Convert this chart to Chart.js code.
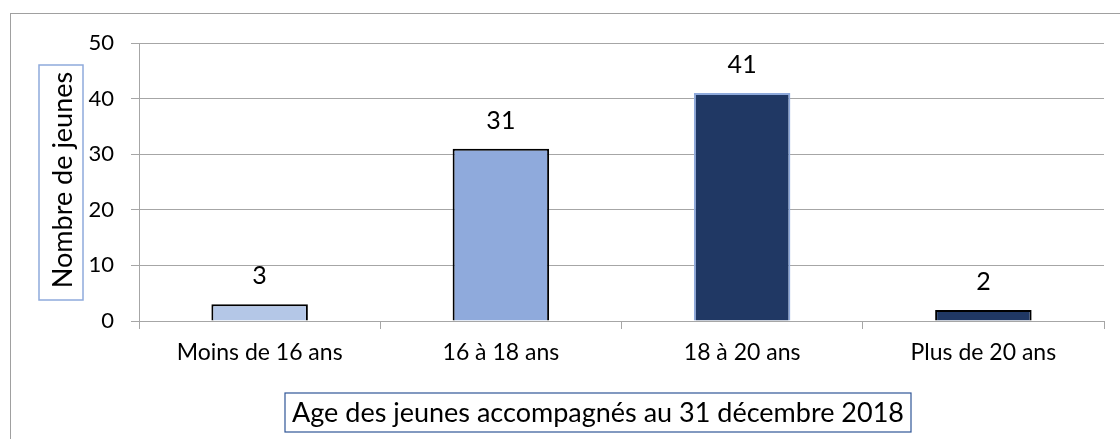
<!DOCTYPE html>
<html>
<head>
<meta charset="utf-8">
<script src="https://cdn.jsdelivr.net/npm/chart.js@4/dist/chart.umd.min.js"></script>
<style>
  body { margin: 0; background: #fff; }
  #wrap { width: 1120px; height: 439px; }
</style>
</head>
<body>
<div id="wrap"><canvas id="ageChart" width="1120" height="439"></canvas></div>
<script>
// data
const categories = ["Moins de 16 ans", "16 à 18 ans", "18 à 20 ans", "Plus de 20 ans"];
const values = [3, 31, 41, 2];
const yTicks = [0, 10, 20, 30, 40, 50];
const yTitle = "Nombre de jeunes";
const xTitle = "Age des jeunes accompagnés au 31 décembre 2018";

const barColors = ["#b4c7e7", "#8faadc", "#203864", "#203864"];
const barBorders = ["#000000", "#000000", "#8faadc", "#000000"];

const fontName = "Lato, 'Open Sans', sans-serif";

// draws the value above each bar, the boxed axis titles and the outer frame
const extras = {
    id: "extras",
    afterDatasetsDraw(chart) {
        const ctx = chart.ctx;
        const meta = chart.getDatasetMeta(0);
        ctx.save();
        ctx.fillStyle = "#000";
        ctx.font = "25px " + fontName;
        ctx.textAlign = "center";
        ctx.textBaseline = "middle";
        meta.data.forEach((bar, i) => {
            ctx.fillText(values[i], bar.x, bar.y - 28);
        });
        ctx.restore();
    },
    afterDraw(chart) {
        const ctx = chart.ctx;
        ctx.save();
        // outer frame (right and bottom edges fall outside the picture)
        ctx.strokeStyle = "#a0a0a0";
        ctx.lineWidth = 1;
        ctx.strokeRect(10.5, 13.5, 1130, 440);

        // y title box
        ctx.strokeStyle = "#8faadc";
        ctx.lineWidth = 1.5;
        ctx.strokeRect(39, 65, 44, 235);
        ctx.translate(62, 180);
        ctx.rotate(-Math.PI / 2);
        ctx.fillStyle = "#000";
        ctx.font = "27px " + fontName;
        ctx.textAlign = "center";
        ctx.textBaseline = "middle";
        ctx.fillText(yTitle, 0, 1);
        ctx.restore();

        // x title box
        ctx.save();
        ctx.strokeStyle = "#2f5597";
        ctx.lineWidth = 1.2;
        ctx.strokeRect(285, 393, 626, 39);
        ctx.fillStyle = "#000";
        ctx.font = "27px " + fontName;
        ctx.textAlign = "center";
        ctx.textBaseline = "middle";
        ctx.fillText(xTitle, 598, 413);
        ctx.restore();
    }
};

let ageChart = new Chart("ageChart", {
    type: "bar",
    data: {
        labels: categories,
        datasets: [{
            data: values,
            backgroundColor: barColors,
            borderColor: barBorders,
            borderWidth: 2,
            barPercentage: 0.8,
            categoryPercentage: 0.5
        }]
    },
    options: {
        responsive: false,
        animation: false,
        layout: {
            padding: { left: 0, right: 16, top: 43, bottom: 0 }
        },
        plugins: {
            legend: { display: false },
            tooltip: { enabled: false }
        },
        scales: {
            x: {
                afterFit: (scale) => { scale.height = 118; },
                grid: {
                    offset: true,
                    drawOnChartArea: false,
                    tickLength: 8,
                    color: "#a6a6a6"
                },
                border: { color: "#a6a6a6" },
                ticks: {
                    padding: 10,
                    color: "#000",
                    font: { family: fontName, size: 23 }
                }
            },
            y: {
                min: 0,
                max: 50,
                afterFit: (scale) => { scale.width = 139; },
                afterBuildTicks: (scale) => { scale.ticks = yTicks.map(v => ({ value: v })); },
                grid: {
                    color: "#a6a6a6",
                    tickLength: 8
                },
                border: { color: "#a6a6a6" },
                ticks: {
                    padding: 17,
                    color: "#000",
                    font: { family: fontName, size: 22 }
                }
            }
        }
    },
    plugins: [extras]
});
</script>
</body>
</html>
